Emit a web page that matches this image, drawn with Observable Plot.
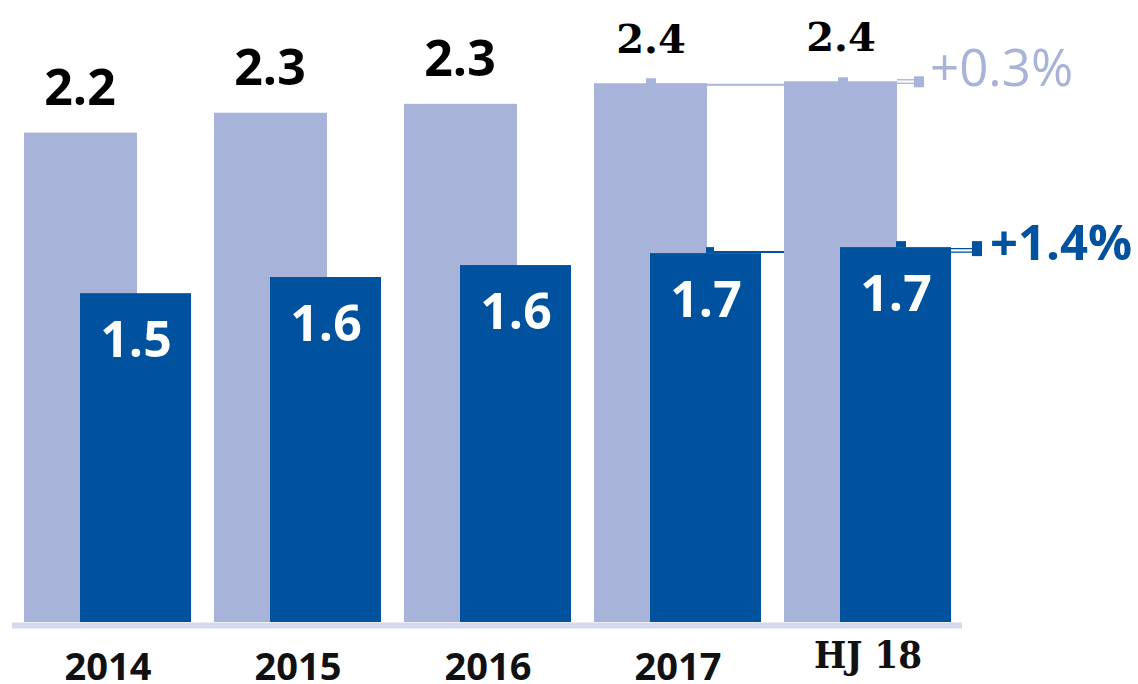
<!DOCTYPE html>
<html><head><meta charset="utf-8">
<script src="https://cdn.jsdelivr.net/npm/d3@7"></script>
<script src="https://cdn.jsdelivr.net/npm/@observablehq/plot@0.6"></script>
<style>body{margin:0;background:#fff}</style>
</head><body><div id="chart"></div>
<script>
const categories = ["2014", "2015", "2016", "2017", "HJ 18"];
const totalValues = [2.21, 2.30, 2.34, 2.433, 2.442];
const totalLabels = ["2.2", "2.3", "2.3", "2.4", "2.4"];
const partValues = [1.485, 1.558, 1.612, 1.666, 1.693];
const partLabels = ["1.5", "1.6", "1.6", "1.7", "1.7"];
const changeLabels = ["+0.3%", "+1.4%"];

const lightColor = "#a7b3d8";
const darkColor = "#00519e";
const baseColor = "#d5d9ed";

const data = categories.map((c, i) => ({
  cat: c, i, total: totalValues[i], part: partValues[i],
  totalLabel: totalLabels[i], partLabel: partLabels[i]
}));

const FIRST = categories[3], LAST = categories[4];

// connector lines drawn behind the bars
const connectorsBack = (index, scales) => {
  const x = scales.x, y = scales.y;
  const g = d3.create("svg:g");
  const a = x(FIRST), b = x(LAST);
  g.append("line").attr("x1", a + 57).attr("x2", b + 57)
    .attr("y1", y(totalValues[3]) + 1.5).attr("y2", y(totalValues[3]) + 1.5)
    .attr("stroke", lightColor).attr("stroke-width", 2);
  g.append("line").attr("x1", a + 115).attr("x2", b + 115)
    .attr("y1", y(partValues[3]) - 1).attr("y2", y(partValues[3]) - 1)
    .attr("stroke", darkColor).attr("stroke-width", 2);
  return g.node();
};

// ticks, end squares and change labels drawn on top
const connectorsFront = (index, scales) => {
  const x = scales.x, y = scales.y, bw = x.bandwidth();
  const g = d3.create("svg:g").attr("text-anchor", "start");
  const a = x(FIRST), b = x(LAST);
  // light series
  const lt3 = y(totalValues[3]), lt4 = y(totalValues[4]);
  g.append("rect").attr("x", a + 52).attr("y", lt3 - 5).attr("width", 10).attr("height", 6).attr("fill", lightColor);
  g.append("rect").attr("x", b + 54).attr("y", lt4 - 4).attr("width", 10).attr("height", 5).attr("fill", lightColor);
  for (const off of [-1.5, 2]) {
    g.append("line").attr("x1", b + bw - 54).attr("x2", b + 132)
      .attr("y1", lt4 + off).attr("y2", lt4 + off)
      .attr("stroke", lightColor).attr("stroke-width", 1.3);
  }
  g.append("rect").attr("x", b + 130).attr("y", lt4 - 5).attr("width", 10).attr("height", 11).attr("fill", lightColor);
  g.append("text").attr("x", b + 146).attr("y", lt4 + 5)
    .attr("font-family", "Open Sans").attr("font-size", 51).attr("fill", lightColor)
    .text(changeLabels[0]);
  // dark series
  const dk3 = y(partValues[3]), dk4 = y(partValues[4]);
  g.append("rect").attr("x", a + 112).attr("y", dk3 - 6).attr("width", 8).attr("height", 6).attr("fill", darkColor);
  g.append("rect").attr("x", b + 112).attr("y", dk4 - 6).attr("width", 10).attr("height", 6).attr("fill", darkColor);
  for (const off of [1.5, 5]) {
    g.append("line").attr("x1", b + bw).attr("x2", b + 189)
      .attr("y1", dk4 + off).attr("y2", dk4 + off)
      .attr("stroke", darkColor).attr("stroke-width", 1.3);
  }
  g.append("rect").attr("x", b + 188).attr("y", dk4 - 6).attr("width", 10).attr("height", 15).attr("fill", darkColor);
  g.append("text").attr("x", b + 206).attr("y", dk4 + 13)
    .attr("font-family", "Open Sans").attr("font-weight", "bold").attr("font-size", 49).attr("fill", darkColor)
    .text(changeLabels[1]);
  return g.node();
};

const plot = Plot.plot({
  width: 1138,
  height: 684,
  marginLeft: 22,
  marginRight: 185,
  marginTop: 2,
  marginBottom: 62,
  style: {fontFamily: "Open Sans", background: "#fff", overflow: "visible"},
  x: {domain: categories, paddingInner: 0.12, paddingOuter: 0, label: null},
  y: {domain: [0, 2.8], axis: null},
  marks: [
    connectorsBack,
    Plot.barY(data, {x: "cat", y: "total", fill: lightColor, insetRight: 54}),
    Plot.barY(data, {x: "cat", y: "part", fill: darkColor, insetLeft: 56}),
    Plot.ruleY([0], {stroke: baseColor, strokeWidth: 6, dy: 3, insetLeft: -10, insetRight: -9}),
    Plot.text(data, {filter: d => d.i < 3, x: "cat", y: "total", text: "totalLabel", dx: -28, dy: -44,
      fill: "#000", fontSize: 50, fontWeight: "bold"}),
    Plot.text(data, {filter: d => d.i >= 3, x: "cat", y: "total", text: "totalLabel", dx: -27, dy: -44,
      fill: "#000", fontSize: 40, fontWeight: "bold", fontFamily: "DejaVu Serif"}),
    Plot.text(data, {x: "cat", y: "part", text: "partLabel", dx: 28, dy: 47,
      fill: "#fff", fontSize: 50, fontWeight: "bold"}),
    Plot.axisX({ticks: categories.slice(0, 4), tickSize: 0, tickPadding: 31, fontSize: 38, fontWeight: "bold", fill: "#111", label: null}),
    Plot.text([LAST], {x: d => d, frameAnchor: "bottom", dy: 45, fontSize: 38, fontWeight: "bold",
      fontFamily: "DejaVu Serif Condensed, DejaVu Serif", fill: "#111"}),
    connectorsFront
  ]
});
document.getElementById("chart").appendChild(plot);
</script>
</body></html>
